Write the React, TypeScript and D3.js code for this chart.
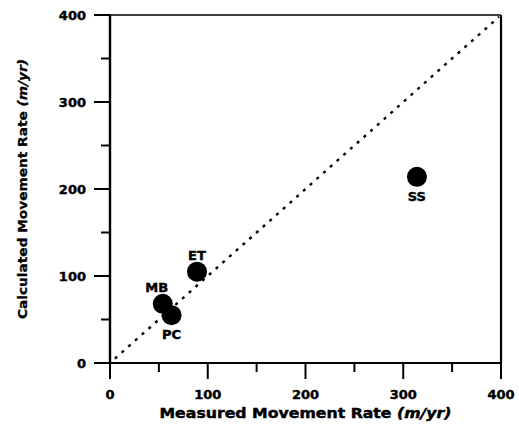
import React from "react";
import * as d3 from "d3";

// Site names with measured vs. calculated movement rates (m/yr)
const sites = ["SS", "ET", "MB", "PC"];
const measured = [314, 89, 54, 63];
const calculated = [214, 105, 68, 55];
// Label placement relative to each point: "below" or "above"
const labelSide = ["below", "above", "above", "below"];

const majorTicks = [0, 100, 200, 300, 400];
const minorTicks = [50, 150, 250, 350];

const W = 519;
const H = 424;
const FONT = "'DejaVu Sans', Arial, sans-serif";

export default function App() {
  const x = d3.scaleLinear().domain([0, 400]).range([110, 501]);
  const y = d3.scaleLinear().domain([0, 400]).range([363, 15]);

  const x0 = x(0), x1 = x(400), y0 = y(0), y1 = y(400);
  const line = d3.line<number>().x((d) => x(d)).y((d) => y(d));

  const textStyle = {
    fontFamily: FONT,
    fontWeight: "bold" as const,
    stroke: "#000",
    strokeWidth: 0.45,
  };

  return (
    <svg
      width={W}
      height={H}
      style={{ position: "fixed", left: 0, top: 0, background: "#fff" }}
    >
      <rect width={W} height={H} fill="#fff" />
      {/* 1:1 reference line */}
      <path
        d={line([5, 398]) || ""}
        stroke="#000"
        strokeWidth={2.4}
        strokeDasharray="3,6"
        fill="none"
      />
      {/* frame */}
      <line x1={x0} y1={y1} x2={x1} y2={y1} stroke="#000" strokeWidth={1.6} />
      <line x1={x1} y1={y1} x2={x1} y2={y0} stroke="#000" strokeWidth={2.2} />
      <line x1={x0} y1={y0} x2={x1} y2={y0} stroke="#000" strokeWidth={2.2} />
      <line x1={x0} y1={y1} x2={x0} y2={y0} stroke="#000" strokeWidth={2.4} />
      {/* x ticks */}
      {majorTicks.map((t) => (
        <line key={"xm" + t} x1={x(t)} x2={x(t)} y1={y0} y2={y0 + 16} stroke="#000" strokeWidth={2} />
      ))}
      {minorTicks.map((t) => (
        <line key={"xn" + t} x1={x(t)} x2={x(t)} y1={y0} y2={y0 + 9} stroke="#000" strokeWidth={2} />
      ))}
      {/* y ticks */}
      {majorTicks.map((t) => (
        <line key={"ym" + t} x1={x0 - 16} x2={x0} y1={y(t)} y2={y(t)} stroke="#000" strokeWidth={2} />
      ))}
      {minorTicks.map((t) => (
        <line key={"yn" + t} x1={x0 - 9} x2={x0} y1={y(t)} y2={y(t)} stroke="#000" strokeWidth={2} />
      ))}
      {/* tick labels */}
      {majorTicks.map((t) => (
        <text key={"xl" + t} x={x(t)} y={y0 + 36} textAnchor="middle" fontSize={13} {...textStyle}>
          {t}
        </text>
      ))}
      {majorTicks.map((t) => (
        <text key={"yl" + t} x={x0 - 24} y={y(t) + 4.5} textAnchor="end" fontSize={13} {...textStyle}>
          {t}
        </text>
      ))}
      {/* axis titles */}
      <text
        x={(x0 + x1) / 2}
        y={y0 + 55}
        textAnchor="middle"
        fontSize={13.5}
        textLength={292}
        lengthAdjust="spacingAndGlyphs"
        {...textStyle}
      >
        Measured Movement Rate <tspan fontStyle="italic">(m/yr)</tspan>
      </text>
      <text
        transform={`translate(27,${(y0 + y1) / 2}) rotate(-90)`}
        textAnchor="middle"
        fontSize={12.5}
        textLength={260}
        lengthAdjust="spacingAndGlyphs"
        {...textStyle}
        strokeWidth={0.3}
      >
        Calculated Movement Rate <tspan fontStyle="italic">(m/yr)</tspan>
      </text>
      {/* points */}
      {sites.map((s, i) => (
        <circle key={"p" + s} cx={x(measured[i])} cy={y(calculated[i])} r={10} fill="#000" />
      ))}
      {sites.map((s, i) => (
        <text
          key={"l" + s}
          x={x(measured[i]) + (s === "MB" ? -6 : 0)}
          y={y(calculated[i]) + (labelSide[i] === "below" ? 24 : -12)}
          textAnchor="middle"
          fontSize={13}
          {...textStyle}
        >
          {s}
        </text>
      ))}
    </svg>
  );
}
